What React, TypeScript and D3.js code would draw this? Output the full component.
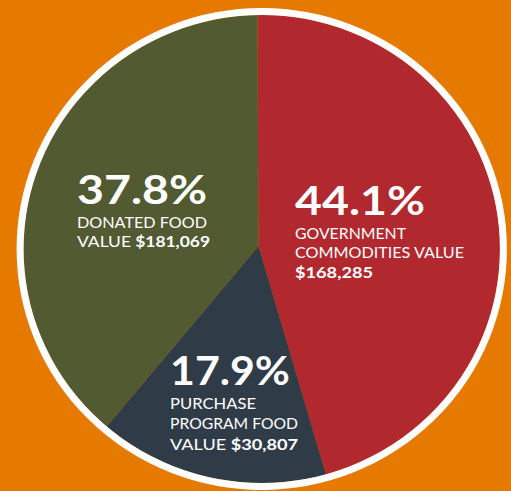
import React from "react";
import * as d3 from "d3";

// ---- data ----
const categories = ["Government Commodities", "Purchase Program Food", "Donated Food"];
// shares of the circle as drawn (percent)
const sliceShares = [45.5, 15.7, 38.8];
const percentLabels = ["44.1%", "17.9%", "37.8%"];
const nameLines = [
  ["GOVERNMENT", "COMMODITIES VALUE"],
  ["PURCHASE", "PROGRAM FOOD", "VALUE"],
  ["DONATED FOOD", "VALUE"],
];
const dollarLabels = ["$168,285", "$30,807", "$181,069"];
// whether the dollar value goes on its own line
const dollarOwnLine = [true, false, false];

// ---- layout / style ----
const W = 511;
const H = 491;
const colors = ["#B1282E", "#2F3B47", "#525A32"];
const bg = "#E67A00";
const vertex = { x: 258.5, y: 246 };
const ell = { cx: 261.75, cy: 249, rx: 238.25, ry: 234 };
const startDeg = -0.25;
// label layout: x, baseline of percent, percent width, line baselines, line widths
const labelLayout = [
  { x: 295, py: 215, pw: 130, ys: [238.5, 257.5, 278], ws: [111, 169, 78] },
  { x: 170, py: 385, pw: 120, ys: [409, 429, 450], ws: [86, 128, 128] },
  { x: 77, py: 204, pw: 130, ys: [228, 247], ws: [130, 133] },
];

const FONT = "Lato, 'Open Sans', sans-serif";

export default function App() {
  const data = categories.map((c, i) => ({ c, v: sliceShares[i], i }));
  const start = (startDeg * Math.PI) / 180;
  const pie = d3
    .pie<any>()
    .sort(null)
    .value((d: any) => d.v)
    .startAngle(start)
    .endAngle(start + 2 * Math.PI);
  const arc = d3.arc<any>().innerRadius(0).outerRadius(340);
  const arcs = pie(data);

  return (
    <svg
      width={W}
      height={H}
      style={{ position: "absolute", left: 0, top: 0, display: "block" }}
    >
      <defs>
        <clipPath id="pieClip">
          <ellipse cx={ell.cx} cy={ell.cy} rx={ell.rx} ry={ell.ry} />
        </clipPath>
      </defs>
      <rect x={0} y={0} width={W} height={H} fill={bg} />
      <g clipPath="url(#pieClip)">
        <g transform={`translate(${vertex.x},${vertex.y})`}>
          {arcs.map((a: any, i: number) => (
            <path key={i} d={arc(a) as string} fill={colors[i]} />
          ))}
        </g>
      </g>
      <ellipse
        cx={ell.cx}
        cy={ell.cy}
        rx={ell.rx + 3.4}
        ry={ell.ry + 3.4}
        fill="none"
        stroke="#FFFFFF"
        strokeWidth={7}
      />
      {categories.map((c, i) => {
        const L = labelLayout[i];
        const lines: { parts: { t: string; b: boolean }[] }[] = nameLines[i].map((t) => ({
          parts: [{ t, b: false }],
        }));
        if (dollarOwnLine[i]) lines.push({ parts: [{ t: dollarLabels[i], b: true }] });
        else lines[lines.length - 1].parts.push({ t: " " + dollarLabels[i], b: true });
        return (
          <g key={c} fill="#FFFFFF" fontFamily={FONT}>
            <text
              x={L.x}
              y={L.py}
              fontSize={41}
              fontWeight={700}
              textLength={L.pw}
              lengthAdjust="spacingAndGlyphs"
            >
              {percentLabels[i]}
            </text>
            {lines.map((ln, j) => (
              <text
                key={j}
                x={L.x}
                y={L.ys[j]}
                fontSize={15}
                textLength={L.ws[j]}
                lengthAdjust="spacingAndGlyphs"
              >
                {ln.parts.map((p, k) => (
                  <tspan key={k} fontWeight={p.b ? 700 : 400}>
                    {p.t}
                  </tspan>
                ))}
              </text>
            ))}
          </g>
        );
      })}
    </svg>
  );
}
